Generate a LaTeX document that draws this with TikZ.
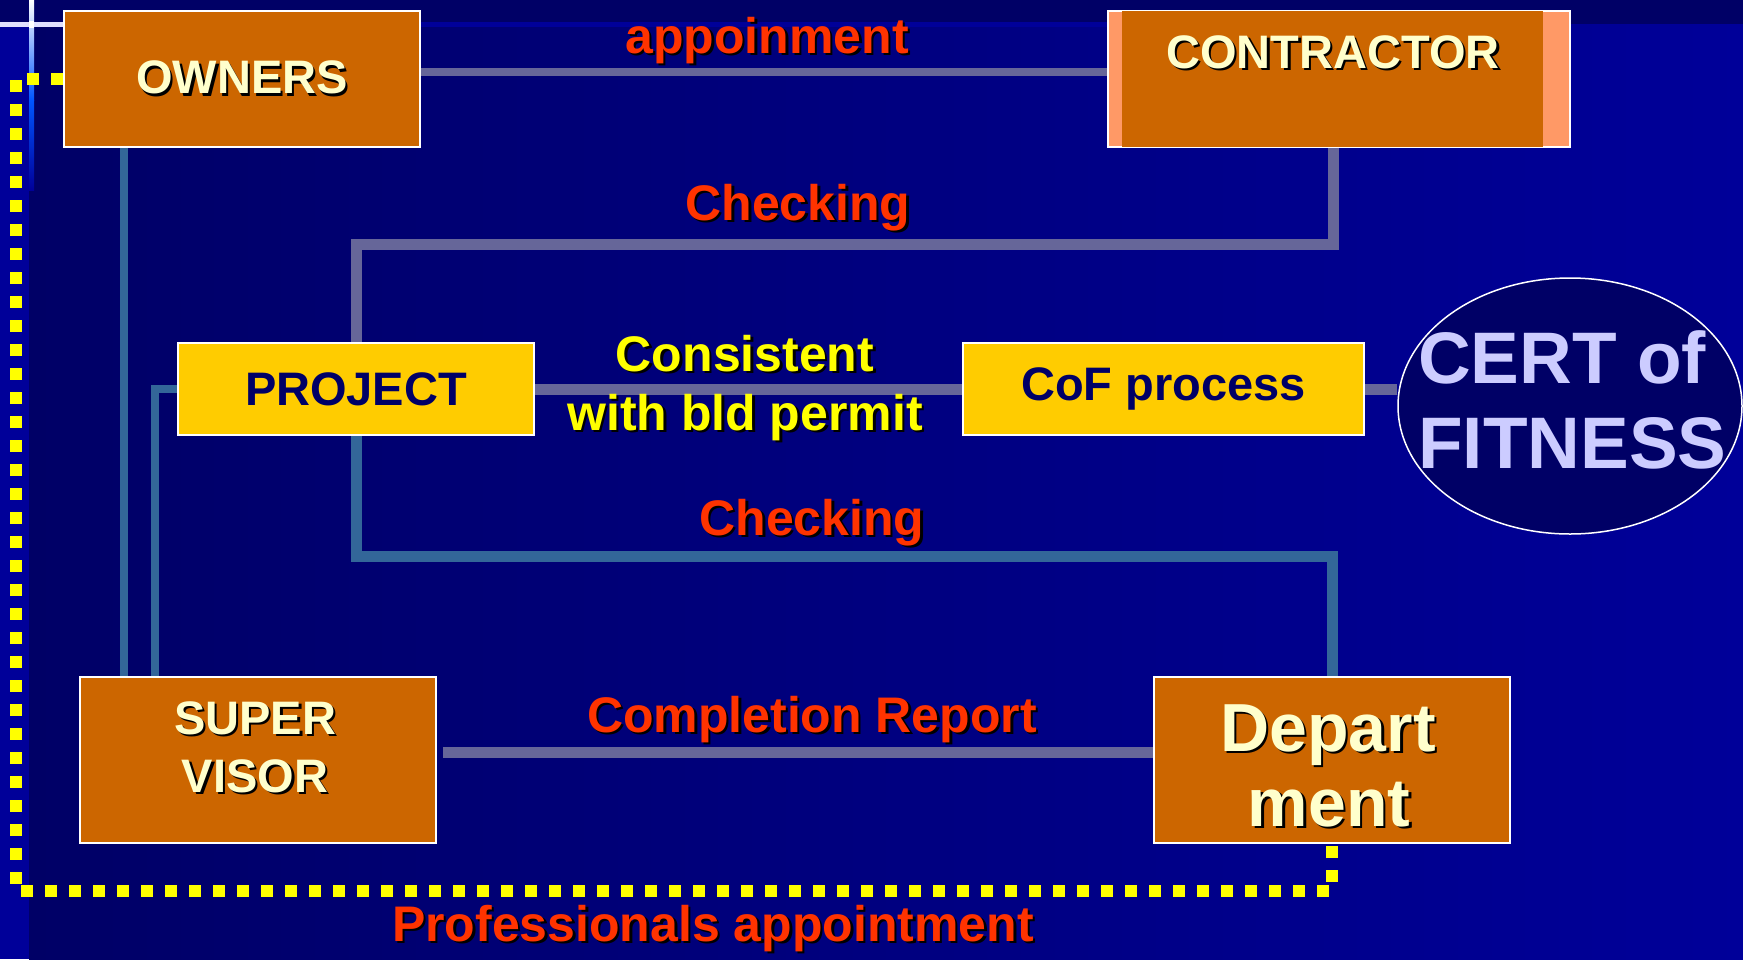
\documentclass[tikz,border=0pt]{standalone}
\usepackage{fontspec}
\setmainfont{Liberation Sans}
\usetikzlibrary{shapes.geometric}
\definecolor{navy}{HTML}{000066}
\definecolor{bgblue}{HTML}{000099}
\definecolor{boxorange}{HTML}{CC6600}
\definecolor{salmon}{HTML}{FF9966}
\definecolor{boxyellow}{HTML}{FFCC00}
\definecolor{cream}{HTML}{FFFFCC}
\definecolor{labred}{HTML}{FF3300}
\definecolor{lineviolet}{HTML}{666699}
\definecolor{linesteel}{HTML}{336699}
\definecolor{certtxt}{HTML}{CCCCFF}
\definecolor{dotyellow}{HTML}{FFFF00}
\definecolor{glowblue}{HTML}{0055FF}
\pgfdeclarelayer{backdrop}
\pgfdeclarelayer{wires}
\pgfsetlayers{backdrop,wires,main}
\newcommand{\shd}[1]{\leavevmode\rlap{\kern2.5pt\raisebox{-2.5pt}{\color{black}#1}}#1}
\tikzset{
  box/.style={draw=white, line width=2pt, rectangle, inner sep=0pt, minimum width=356pt},
  orangebox/.style={box, fill=boxorange, text=cream, font=\bfseries\fontsize{47}{56}\selectfont},
  yellowbox/.style={box, fill=boxyellow, minimum height=92pt, text=navy, font=\bfseries\fontsize{47}{56}\selectfont},
  boxtext/.style={inner sep=0pt, anchor=base, text=cream, font=\bfseries\fontsize{47}{56}\selectfont},
  bigtext/.style={boxtext, font=\bfseries\fontsize{68}{80}\selectfont},
  lab/.style={inner sep=0pt, anchor=base, text=labred, font=\bfseries\fontsize{50}{60}\selectfont},
  ylab/.style={lab, text=dotyellow},
  certtext/.style={inner sep=0pt, anchor=base west, text=certtxt, font=\bfseries\fontsize{73}{86}\selectfont},
  connthin/.style={line width=7.5pt},
  connthick/.style={line width=11pt},
  profdots/.style={draw=dotyellow, line width=12pt, dash pattern=on 12pt off 12pt}
}
\begin{document}
\begin{tikzpicture}[x=1pt,y=-1pt]
\useasboundingbox (0,0) rectangle (1743,959);
% background
\begin{pgfonlayer}{backdrop}
\fill[navy] (0,0) rectangle (1743,959);
\shade[left color=navy, right color=bgblue] (29,24) rectangle (1743,959);
\fill[navy] (0,0) rectangle (1743,22);
\fill[bgblue] (64,22) rectangle (1570,27);
\fill[bgblue] (0,27) rectangle (29,959);
\shade[top color=white, bottom color=glowblue] (29,0) rectangle (34,100);
\shade[top color=glowblue, bottom color=bgblue] (29,100) rectangle (34,190);
\fill[white!88!blue] (0,22) rectangle (64,27);
\fill[white] (29,21) rectangle (34,28);
\end{pgfonlayer}

% boxes
\node[orangebox, minimum height=136pt] (owners) at (242,79) {\shd{OWNERS}};
\node[box, fill=salmon, minimum width=462pt, minimum height=136pt] (contractor) at (1339,79) {};
\fill[boxorange] ([xshift=15pt,yshift=-1pt]contractor.north west) rectangle ([xshift=-28pt,yshift=1pt]contractor.south east);
\node[yellowbox] (project) at (356,389) {PROJECT};
\node[yellowbox, minimum width=401pt] (cof) at (1163.5,389) {CoF process};
\node[ellipse, draw=white, line width=1.5pt, fill=navy, inner sep=0pt,
      minimum width=344pt, minimum height=256pt] (cert) at (1570,406) {};
\node[orangebox, minimum height=166pt] (sup) at (258,760) {};
\node[orangebox, minimum height=166pt] (dept) at (1332,760) {};

% connectors
\begin{pgfonlayer}{wires}
\draw[connthin, lineviolet] ([yshift=7pt]owners.east) -- ([yshift=7pt]contractor.west);
\draw[connthin, linesteel] ([xshift=61pt]owners.south west) -- ([xshift=61pt]owners.south west |- sup.north);
\draw[connthin, linesteel] (project.west) -| ([xshift=76pt]sup.north west);
\draw[connthick, lineviolet] (project.north) -- ++(0,-98) -| ([xshift=-6pt]contractor.south);
\draw[connthick, linesteel] (project.south) -- ++(0,120) -| (dept.north);
\draw[connthick, lineviolet] (project.east) -- (cof.west);
\draw[connthick, lineviolet] (cof.east) -- (cert.west |- cof.east);
\draw[connthick, lineviolet, shorten <=6pt] ([yshift=8pt]sup.east) -- ([yshift=8pt]dept.west);
\coordinate (pbl) at (16,891);
\draw[profdots] (owners.west) -| (pbl) -| (dept.south);
\end{pgfonlayer}

% texts
\node[boxtext] (contractortext) at (1333,68) {\shd{CONTRACTOR}};
\node[boxtext] (suptext1) at (255,734) {\shd{SUPER}};
\node[boxtext] (suptext2) at (255,792) {\shd{VISOR}};
\node[bigtext] (depttext1) at (1328,751) {\shd{Depart}};
\node[bigtext] (depttext2) at (1329,826) {\shd{ment}};
\node[certtext] (certtext1) at (1418,383) {CERT of};
\node[certtext] (certtext2) at (1418,468) {FITNESS};
\node[lab] (labapp) at (767,53) {\shd{appoinment}};
\node[lab] (labchk1) at (798,220) {\shd{Checking}};
\node[lab] (labchk2) at (812,535) {\shd{Checking}};
\node[ylab] (labcons1) at (745,371) {\shd{Consistent}};
\node[ylab] (labcons2) at (745,430) {\shd{with bld permit}};
\node[lab] (labcomp) at (812,732) {\shd{Completion Report}};
\node[lab] (labprof) at (713,941) {\shd{Professionals appointment}};
\end{tikzpicture}
\end{document}
